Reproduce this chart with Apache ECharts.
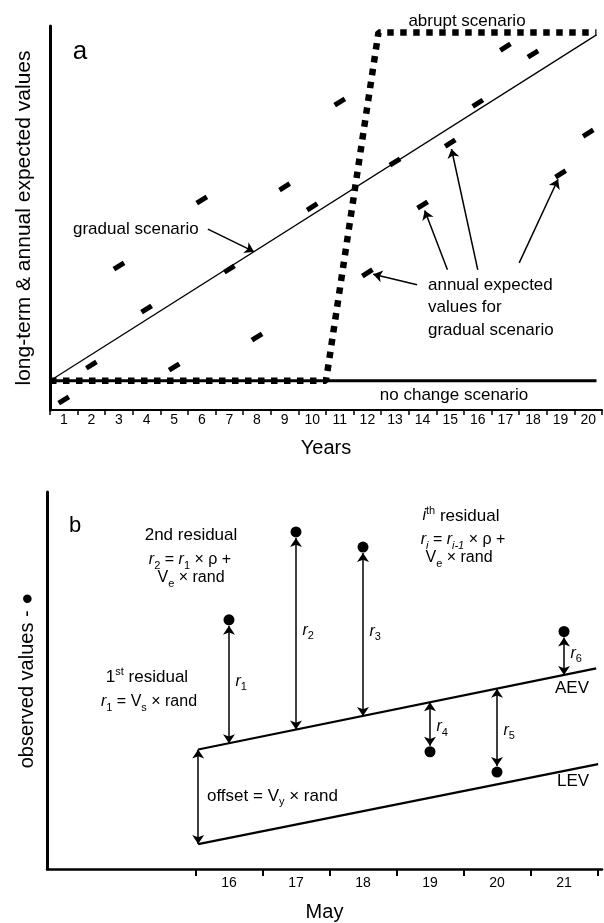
<!DOCTYPE html>
<html>
<head>
<meta charset="utf-8">
<style>
  html, body { margin: 0; padding: 0; background: #fff; }
  #chart { width: 604px; height: 923px; }
</style>
<script src="https://cdn.jsdelivr.net/npm/echarts@6/dist/echarts.min.js"></script>
</head>
<body>
<div id="chart"></div>
<script>
const FONT = '"Liberation Sans", Arial, sans-serif'

// ---- panel a (years, arbitrary units 0-100) ----
const years = [1, 2, 3, 4, 5, 6, 7, 8, 9, 10, 11, 12, 13, 14, 15, 16, 17, 18, 19, 20]
const annualExpected = [2.6, 11.7, 37.5, 26.3, 11.2, 54.7, 36.7, 19.0, 58.1, 52.9,
  80.2, 35.7, 64.6, 53.4, 69.5, 79.9, 94.5, 92.7, 61.5, 72.1]
const noChangeX = [0, 19.8]
const noChangeY = [7.6, 7.6]
const gradualX = [0, 19.8]
const gradualY = [7.6, 97.7]
const abruptX = [0, 10, 11.9, 19.8]
const abruptY = [7.6, 7.6, 98.3, 98.3]
// annotation arrows: start point (near the text) and the year they point to
const annArrowFrom = [[13.3, 32.6], [14.4, 36.5], [15.5, 36.5], [17.0, 38.3]]
const annArrowYear = [12, 14, 15, 19]
const gradArrowFrom = [5.72, 47.1]
const gradArrowToX = 7.39

// ---- panel b (May days, arbitrary units 0-100) ----
const days = [16, 17, 18, 19, 20, 21]
const observed = [66.1, 89.4, 85.4, 31.1, 25.7, 63.0]
const aevX = [15.54, 21.48]
const aevY = [31.7, 53.2]
const levX = [15.54, 21.51]
const levY = [6.6, 27.8]
const dayTicks = [15.5, 16.5, 17.5, 18.5, 19.5, 20.5, 21.5]

const zip = (xs, ys) => xs.map((x, i) => [x, ys[i]])
const interp = (xs, ys, x) => ys[0] + (ys[1] - ys[0]) * (x - xs[0]) / (xs[1] - xs[0])

// arrows of panel a
const annArrows = annArrowYear.map((yr, i) => {
  const tx = yr - 0.5, ty = annualExpected[yr - 1]
  const [fx, fy] = annArrowFrom[i]
  // pull tip back a little toward the start (in px-ish terms)
  const dx = (fx - tx) * 27.6, dy = (fy - ty) * 3.84
  const k = 6 / Math.hypot(dx, dy)
  return [{ coord: [fx, fy] }, { coord: [tx + (fx - tx) * k, ty + (fy - ty) * k] }]
})
const gradArrow = [{ coord: gradArrowFrom }, { coord: [gradArrowToX, interp(gradualX, gradualY, gradArrowToX)] }]

// residual arrows of panel b
const DOT_GAP = 1.6
const residArrows = days.map((d, i) => {
  const a = interp(aevX, aevY, d)
  const dir = Math.sign(a - observed[i])
  return [{ coord: [d, observed[i] + dir * DOT_GAP] }, { coord: [d, a] }]
})
const offsetArrow = [{ coord: [aevX[0], aevY[0]] }, { coord: [levX[0], levY[0]] }]
const residLabels = days.map((d, i) => ({
  value: [d, (observed[i] + interp(aevX, aevY, d)) / 2],
  label: { formatter: `{it|r}{sub|${i + 1}}` }
}))

const blackLine = (w, type) => ({ color: '#000', width: w, type: type || 'solid' })

const chart = echarts.init(document.getElementById('chart'))

const txt = (x, y, text, size, extra) => ({
  type: 'text', x, y, silent: true,
  style: Object.assign({
    text, fill: '#000', fontSize: size, fontFamily: FONT,
    align: 'center', verticalAlign: 'middle'
  }, extra || {})
})

const richB = {
  n: { fontSize: 16, fontFamily: FONT, fill: '#000', lineHeight: 22, verticalAlign: 'middle' },
  it: { fontSize: 16, fontFamily: FONT, fill: '#000', fontStyle: 'italic', lineHeight: 22, verticalAlign: 'middle' },
  sub: { fontSize: 11, fontFamily: FONT, fill: '#000', lineHeight: 11, verticalAlign: 'bottom' },
  subit: { fontSize: 11, fontFamily: FONT, fill: '#000', fontStyle: 'italic', lineHeight: 11, verticalAlign: 'bottom' },
  sup: { fontSize: 11, fontFamily: FONT, fill: '#000', lineHeight: 11, verticalAlign: 'top' },
  big: { fontSize: 17, fontFamily: FONT, fill: '#000', lineHeight: 22, verticalAlign: 'middle' }
}
const rtxt = (x, y, text, extra) => ({
  type: 'text', x, y, silent: true,
  style: Object.assign({ text, rich: richB, fill: '#000', align: 'center', verticalAlign: 'middle' }, extra || {})
})

const option = {
  backgroundColor: '#fff',
  animation: false,
  grid: [
    { left: 50, top: 26, width: 552, height: 384 },
    { left: 47, top: 492, width: 555, height: 378 }
  ],
  xAxis: [
    {
      gridIndex: 0, type: 'value', min: 0, max: 20, interval: 1,
      axisLine: { lineStyle: blackLine(2) },
      axisTick: { show: true, length: 5, lineStyle: blackLine(1.5) },
      axisLabel: {
        customValues: years.map(y => y - 0.5),
        formatter: v => String(v + 0.5),
        color: '#000', fontSize: 14, fontFamily: FONT, margin: 3
      },
      splitLine: { show: false },
      name: 'Years', nameLocation: 'middle', nameGap: 28,
      nameTextStyle: { color: '#000', fontSize: 20, fontFamily: FONT }
    },
    {
      gridIndex: 1, type: 'value', min: 13.284, max: 21.567,
      axisLine: { lineStyle: blackLine(2.5) },
      axisTick: { show: true, length: 7, customValues: dayTicks, lineStyle: blackLine(2) },
      axisLabel: {
        customValues: days,
        color: '#000', fontSize: 14, fontFamily: FONT, margin: 7
      },
      splitLine: { show: false },
      name: 'May', nameLocation: 'middle', nameGap: 33,
      nameTextStyle: { color: '#000', fontSize: 20, fontFamily: FONT }
    }
  ],
  yAxis: [
    {
      gridIndex: 0, type: 'value', min: 0, max: 100,
      axisLine: { show: true, lineStyle: blackLine(3) },
      axisTick: { show: false }, axisLabel: { show: false }, splitLine: { show: false },
      name: 'long-term & annual expected values', nameLocation: 'middle', nameGap: 15,
      nameTextStyle: { color: '#000', fontSize: 21, fontFamily: FONT }
    },
    {
      gridIndex: 1, type: 'value', min: 0, max: 100,
      axisLine: { show: true, lineStyle: blackLine(3) },
      axisTick: { show: false }, axisLabel: { show: false }, splitLine: { show: false },
      name: 'observed values - ●', nameLocation: 'middle', nameGap: 10,
      nameTextStyle: { color: '#000', fontSize: 20, fontFamily: FONT }
    }
  ],
  series: [
    // no change scenario
    {
      type: 'line', xAxisIndex: 0, yAxisIndex: 0, data: zip(noChangeX, noChangeY),
      showSymbol: false, silent: true, lineStyle: blackLine(3), z: 2
    },
    // gradual scenario + annotation arrows
    {
      type: 'line', xAxisIndex: 0, yAxisIndex: 0, data: zip(gradualX, gradualY),
      showSymbol: false, silent: true, lineStyle: blackLine(1.3), z: 2,
      markLine: {
        silent: true, symbol: ['none', 'arrow'], symbolSize: 9,
        label: { show: false }, lineStyle: blackLine(1.5),
        itemStyle: { color: '#000' },
        data: [gradArrow].concat(annArrows)
      }
    },
    // abrupt scenario
    {
      type: 'line', xAxisIndex: 0, yAxisIndex: 0, data: zip(abruptX, abruptY),
      showSymbol: false, silent: true, z: 3,
      lineStyle: { color: '#000', width: 6.5, type: [6.5, 6.5], cap: 'butt' }
    },
    // annual expected values
    {
      type: 'scatter', xAxisIndex: 0, yAxisIndex: 0,
      data: zip(years.map(y => y - 0.5), annualExpected),
      symbol: 'rect', symbolSize: [12, 5], symbolRotate: 32,
      itemStyle: { color: '#000', opacity: 1 }, silent: true, z: 4
    },
    // AEV + arrows
    {
      type: 'line', xAxisIndex: 1, yAxisIndex: 1, data: zip(aevX, aevY),
      showSymbol: false, silent: true, lineStyle: blackLine(2.2),
      markLine: {
        silent: true, symbol: ['arrow', 'arrow'], symbolSize: 9,
        label: { show: false }, lineStyle: blackLine(1.5),
        itemStyle: { color: '#000' },
        data: [offsetArrow].concat(residArrows)
      }
    },
    // LEV
    {
      type: 'line', xAxisIndex: 1, yAxisIndex: 1, data: zip(levX, levY),
      showSymbol: false, silent: true, lineStyle: blackLine(2.2)
    },
    // observed values
    {
      type: 'scatter', xAxisIndex: 1, yAxisIndex: 1, data: zip(days, observed),
      symbol: 'circle', symbolSize: 11, itemStyle: { color: '#000', opacity: 1 }, silent: true, z: 5
    },
    // residual labels r1..r6
    {
      type: 'scatter', xAxisIndex: 1, yAxisIndex: 1, data: residLabels,
      symbolSize: 1, itemStyle: { color: 'rgba(0,0,0,0)', opacity: 1 }, silent: true,
      label: {
        show: true, position: 'right', distance: 6, color: '#000', opacity: 1,
        rich: {
          it: { fontSize: 16, fontFamily: FONT, color: '#000', fontStyle: 'italic', lineHeight: 22, verticalAlign: 'middle' },
          sub: { fontSize: 11, fontFamily: FONT, color: '#000', lineHeight: 11, verticalAlign: 'bottom' }
        }
      }
    }
  ],
  graphic: [
    // panel a
    txt(80, 52, 'a', 26),
    txt(467, 21, 'abrupt scenario', 17),
    txt(73, 229, 'gradual scenario', 17, { align: 'left' }),
    txt(428, 285, 'annual expected', 17, { align: 'left' }),
    txt(428, 307, 'values for', 17, { align: 'left' }),
    txt(428, 330, 'gradual scenario', 17, { align: 'left' }),
    txt(454, 395, 'no change scenario', 17),
    // panel b
    txt(75, 526, 'b', 22),
    txt(191, 535, '2nd residual', 17),
    rtxt(190, 560, '{it|r}{sub|2}{n| = }{it|r}{sub|1}{n| × ρ +}'),
    rtxt(191, 578, '{n|V}{sub|e}{n| × rand}'),
    rtxt(461, 516, '{it|i}{sup|th}{big| residual}'),
    rtxt(463, 540, '{it|r}{subit|i}{n| = }{it|r}{subit|i-1}{n| × ρ +}'),
    rtxt(459, 558, '{n|V}{sub|e}{n| × rand}'),
    rtxt(147, 677, '{big|1}{sup|st}{big| residual}'),
    rtxt(149, 702, '{it|r}{sub|1}{n| = V}{sub|s}{n| × rand}'),
    rtxt(207, 796, '{big|offset = V}{sub|y}{big| × rand}', { align: 'left' }),
    txt(572, 688, 'AEV', 17, { rotation: 0.2 }),
    txt(573, 781, 'LEV', 17, { rotation: 0.2 })
  ]
}

chart.setOption(option)
</script>
</body>
</html>
